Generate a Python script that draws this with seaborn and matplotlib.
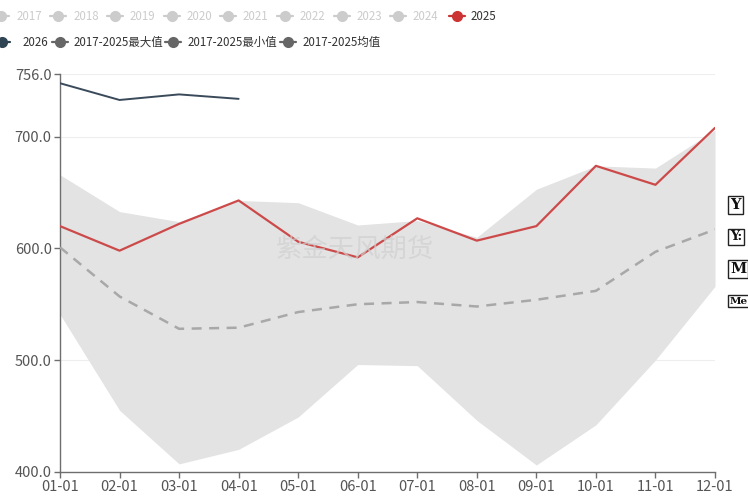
import numpy as np
import pandas as pd
import matplotlib
matplotlib.use("Agg")
import matplotlib.pyplot as plt
from matplotlib.lines import Line2D
import seaborn as sns

dates = ["01-01", "02-01", "03-01", "04-01", "05-01", "06-01",
         "07-01", "08-01", "09-01", "10-01", "11-01", "12-01"]
y2025 = [620, 598, 622, 643, 606, 592, 627, 607, 620, 674, 657, 708]
y2026 = [748, 733, 738, 734]
band_max = [666, 633, 624, 643, 641, 621, 625, 610, 653, 674, 672, 706]
band_min = [541, 455, 407, 420, 449, 496, 495, 446, 406, 442, 500, 566]
band_mean = [601, 557, 528, 529, 543, 550, 552, 548, 554, 562, 597, 617]
yticks = [400, 500, 600, 700, 756]
ytick_labels = ["400.0", "500.0", "600.0", "700.0", "756.0"]
legend_row1 = ["2017", "2018", "2019", "2020", "2021", "2022", "2023", "2024", "2025"]
legend_row2 = ["2026", "2017-2025最大值", "2017-2025最小值", "2017-2025均值"]
watermark = "紫金天风期货"
side_labels = ["Y", "Y:", "M", "Me"]

sns.set_theme(style="white")
plt.rcParams['font.family'] = ['Noto Sans CJK SC', 'DejaVu Sans']

W, H = 748, 496
fig = plt.figure(figsize=(W / 100, H / 100), dpi=100)
ax = fig.add_axes([60 / W, (H - 471.7) / H, 655 / W, (471.7 - 74.3) / H])

x = np.arange(len(dates))
df = pd.DataFrame({"x": x, "y2025": y2025, "mean": band_mean})
df26 = pd.DataFrame({"x": x[:len(y2026)], "y2026": y2026})

ax.fill_between(x, band_min, band_max, color="#e3e3e3", lw=0, zorder=1)
sns.lineplot(data=df, x="x", y="mean", ax=ax, color="#a8a8a8", lw=1.8,
             linestyle=(0, (4, 3)), zorder=3)
sns.lineplot(data=df, x="x", y="y2025", ax=ax, color="#cc4a4a", lw=1.6, zorder=4)
sns.lineplot(data=df26, x="x", y="y2026", ax=ax, color="#3a4a5a", lw=1.4, zorder=4)

ax.set_xlim(0, len(dates) - 1)
ax.set_ylim(400, 756)
ax.set_xticks(x)
ax.set_xticklabels(dates)
ax.set_yticks(yticks)
ax.set_yticklabels(ytick_labels)
ax.set_xlabel("")
ax.set_ylabel("")
for yv in [500, 600, 700, 756]:
    ax.axhline(yv, color="#eeeeee", lw=0.8, zorder=0)
for s in ["top", "right"]:
    ax.spines[s].set_visible(False)
for s in ["left", "bottom"]:
    ax.spines[s].set_color("#6e6e6e")
    ax.spines[s].set_linewidth(1.0)
ax.tick_params(axis="both", which="both", direction="out", length=4, width=1,
               color="#6e6e6e", labelcolor="#555555", labelsize=10.5, pad=2,
               left=True, bottom=True)

# watermark
fig.text(355 / W, 1 - 249 / H, watermark, fontsize=19, color="#d0d0d0",
         alpha=0.7, ha="center", va="center", zorder=2)

# legend rows
def legend_item(xm, y, color, label, tcolor, xt):
    yf = 1 - y / H
    fig.add_artist(Line2D([(xm - 8) / W, (xm + 8) / W], [yf, yf], transform=fig.transFigure,
                          color=color, lw=1.6))
    fig.add_artist(Line2D([xm / W], [yf], transform=fig.transFigure, marker="o",
                          markersize=7, color=color, lw=0))
    fig.text(xt / W, yf, label, fontsize=8.3, color=tcolor, ha="left", va="center")

row1_marker = [1, 58, 115, 172, 228, 285, 342, 398, 457]
row1_text = [17, 74, 130, 187, 243, 300, 357, 413, 471]
for i, lab in enumerate(legend_row1):
    if lab == "2025":
        legend_item(row1_marker[i], 16, "#cc3333", lab, "#333333", row1_text[i])
    else:
        legend_item(row1_marker[i], 16, "#cccccc", lab, "#cccccc", row1_text[i])

row2_marker = [2, 60, 173, 288]
row2_text = [23, 74, 188, 303]
row2_colors = ["#2f4554", "#666666", "#666666", "#666666"]
for i, lab in enumerate(legend_row2):
    legend_item(row2_marker[i], 42, row2_colors[i], lab, "#333333", row2_text[i])

# right side boxes
side_sizes = [10.5, 9, 10.5, 7.5]
for i, lab in enumerate(side_labels):
    fig.text(730 / W, 1 - (205 + 32 * i) / H, lab, fontsize=side_sizes[i],
             family="DejaVu Serif", weight="bold", color="#111111", ha="left", va="center",
             bbox=dict(boxstyle="square,pad=0.15", fc="white", ec="#222222", lw=1))

fig.savefig("out.png", dpi=100)
